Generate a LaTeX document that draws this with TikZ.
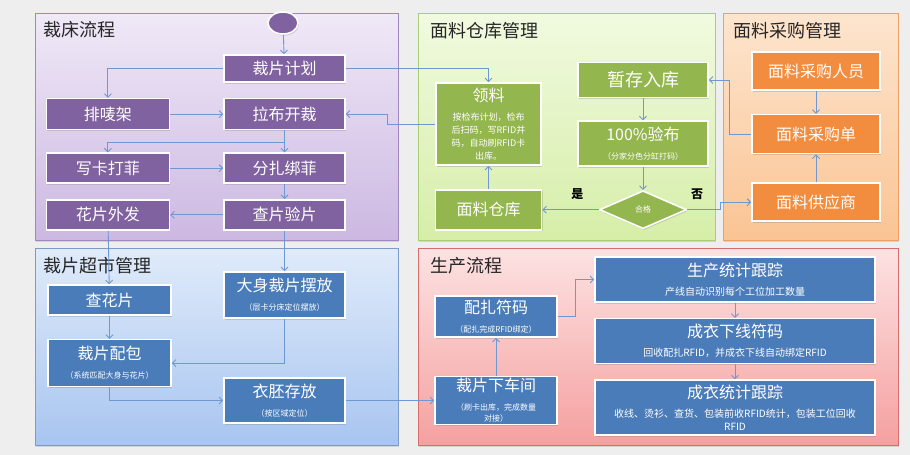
\documentclass[tikz,border=0pt]{standalone}
\usepackage{fontspec}
\setmainfont{Noto Sans CJK SC}
\usetikzlibrary{shapes.geometric,arrows.meta,positioning,shadows}
\definecolor{pagebg}{RGB}{238,238,238}
\definecolor{cutfill}{RGB}{128,98,160}
\definecolor{cuttop}{RGB}{240,233,247}
\definecolor{cutbot}{RGB}{204,184,226}
\definecolor{cutline}{RGB}{160,135,190}
\definecolor{wfill}{RGB}{148,182,78}
\definecolor{wtop}{RGB}{241,250,224}
\definecolor{wbot}{RGB}{214,238,168}
\definecolor{wline}{RGB}{170,205,120}
\definecolor{buyfill}{RGB}{242,140,62}
\definecolor{buytop}{RGB}{253,229,206}
\definecolor{buybot}{RGB}{250,196,148}
\definecolor{buyline}{RGB}{238,160,100}
\definecolor{mfill}{RGB}{74,124,186}
\definecolor{mtop}{RGB}{224,235,250}
\definecolor{mbot}{RGB}{168,197,240}
\definecolor{mline}{RGB}{125,155,200}
\definecolor{ptop}{RGB}{253,226,226}
\definecolor{pbot}{RGB}{245,160,160}
\definecolor{pline}{RGB}{215,110,110}
\definecolor{flow}{RGB}{110,152,210}

\begin{document}
\begin{tikzpicture}[x=1pt, y=-1pt,
    box/.style={rectangle, draw=white, line width=1.6pt, text=white, align=center,
                minimum width=121pt, inner sep=2pt, font=\fontsize{16}{19}\selectfont,
                drop shadow={shadow xshift=1pt, shadow yshift=-1.5pt, opacity=.3}},
    cutbox/.style={box, fill=cutfill},
    wbox/.style={box, fill=wfill},
    buybox/.style={box, fill=buyfill, minimum width=128pt},
    bluebox/.style={box, fill=mfill},
    startdot/.style={ellipse, fill=cutfill, draw=white, line width=1.6pt,
                minimum width=30pt, minimum height=22pt,
                drop shadow={shadow xshift=1pt, shadow yshift=-1.5pt, opacity=.3}},
    gate/.style={diamond, aspect=2.4, fill=wfill, draw=white, line width=1.6pt, text=white,
                minimum width=87pt, minimum height=38pt, inner sep=1pt, font=\footnotesize,
                drop shadow={shadow xshift=1pt, shadow yshift=-1.5pt, opacity=.3}},
    panel/.style={line width=.8pt, drop shadow={shadow xshift=1pt, shadow yshift=-1.5pt, opacity=.25}},
    title/.style={anchor=west, font=\fontsize{18}{21}\selectfont, text=black!85},
    arr/.style={-{Straight Barb[length=3.5pt, width=7pt]}, line width=.9pt, flow},
    lbl/.style={font=\bfseries\fontsize{12}{14}\selectfont, text=black}
]
\path[use as bounding box, fill=pagebg] (0,0) rectangle (910,455);

% panels
\path[panel, draw=cutline, top color=cuttop, bottom color=cutbot] (35,13) rectangle (398,240);
\path[panel, draw=wline, top color=wtop, bottom color=wbot] (418,13) rectangle (715,240);
\path[panel, draw=buyline, top color=buytop, bottom color=buybot] (723,13) rectangle (898,240);
\path[panel, draw=mline, top color=mtop, bottom color=mbot] (35,248) rectangle (398,445);
\path[panel, draw=pline, top color=ptop, bottom color=pbot] (418,248) rectangle (898,445);

\node[title] (cuttitle) at (40,30) {裁床流程};
\node[title] (wtitle) at (427,31) {面料仓库管理};
\node[title] (buytitle) at (730,31) {面料采购管理};
\node[title] (martitle) at (40,266) {裁片超市管理};
\node[title] (prodtitle) at (427,266) {生产流程};

% cutting room
\node[startdot] (start) at (283,23) {};
\node[cutbox, minimum height=27pt] (plan) at (284.5,68.5) {裁片计划};
\node[cutbox, minimum height=31pt, below=15pt of plan] (spread) {拉布开裁};
\node[cutbox, minimum height=30pt, below=22pt of spread] (bundle) {分扎绑菲};
\node[cutbox, minimum height=30pt, below=15pt of bundle] (check) {查片验片};
\node[cutbox, minimum height=31pt, minimum width=123pt, left=53pt of spread] (marker) {排唛架};
\node[cutbox, minimum height=30pt, minimum width=123pt, left=53pt of bundle] (tag) {写卡打菲};
\node[cutbox, minimum height=30pt, minimum width=123pt, left=53pt of check] (print) {花片外发};

% fabric warehouse
\node[wbox, minimum width=105pt, minimum height=82pt] (pick) at (488.5,124)
    {领料\\\small 按检布计划，检布\\[-6pt]\small 后扫码，写RFID并\\[-6pt]\small 码，自动刷RFID卡\\[-6pt]\small 出库。};
\node[wbox, minimum width=130pt, minimum height=35pt, font=\fontsize{18}{21}\selectfont] (temp) at (643,80) {暂存入库};
\node[wbox, minimum width=130pt, minimum height=45pt, below=22pt of temp] (inspect)
    {100\%验布\\\footnotesize （分家分色分缸打码）};
\node[gate, below=23pt of inspect] (ok) {合格};
\node[wbox, minimum width=106pt, minimum height=40pt] (stock) at (pick |- ok) {面料仓库};

% purchasing
\node[buybox, minimum height=38pt] (buyer) at (816,71) {面料采购人员};
\node[buybox, minimum height=39pt, below=23pt of buyer] (order) {面料采购单};
\node[buybox, minimum height=38pt, below=28pt of order] (supplier) {面料供应商};

% cut-piece market
\node[bluebox, minimum width=123pt, minimum height=30pt] (chk) at (109.5,300) {查花片};
\node[bluebox, minimum width=123pt, minimum height=47pt, below=23pt of chk] (pack)
    {裁片配包\\\footnotesize （系统匹配大身与花片）};
\node[bluebox, minimum height=46pt] (body) at (284.5,295) {大身裁片摆放\\\footnotesize （层卡分床定位摆放）};
\node[bluebox, minimum height=45pt] (store) at (284.5,400.5) {衣胚存放\\\footnotesize （按区域定位）};

% production
\node[bluebox, minimum width=122pt, minimum height=41pt] (pair) at (496,316.5)
    {配扎符码\\\footnotesize （配扎完成RFID绑定）};
\node[bluebox, minimum width=122pt, minimum height=45pt] (down) at (pair |- store)
    {裁片下车间\\\footnotesize （刷卡出库，完成数量\\[-8pt]\footnotesize 对接）};
\node[bluebox, minimum width=280pt, minimum height=45pt] (stat) at (735,279.5)
    {生产统计跟踪\\\normalsize 产线自动识别每个工位加工数量};
\node[bluebox, minimum width=280pt, minimum height=45pt, below=15pt of stat] (offline)
    {成衣下线符码\\\normalsize 回收配扎RFID，并成衣下线自动绑定RFID};
\node[bluebox, minimum width=280pt, minimum height=55pt, below=15pt of offline] (final)
    {成衣统计跟踪\\\normalsize 收线、烫衫、查货、包装前收RFID统计，包装工位回收\\[-6pt]\normalsize RFID};

% connectors
\draw[arr] (start) -- (plan);
\draw[arr] (plan.west) -| (marker.north);
\draw[arr] (marker) -- (spread);
\draw[arr] (spread) -- (bundle);
\draw[arr] (spread.south) -- ++(0,12) -| (tag.north);
\draw[arr] (tag) -- (bundle);
\draw[arr] (bundle) -- (check);
\draw[arr] (check) -- (print);
\draw[arr] (print) -- (chk);
\draw[arr] (check) -- (body);
\draw[arr] (plan.east) -| (pick.north);
\draw[arr] (pick.west) -- ++(-48,0) |- (spread.east);
\draw[arr] (temp) -- (inspect);
\draw[arr] (inspect) -- (ok);
\draw[arr] (ok.west) -- (stock.east) node[lbl, pos=.38, above=6pt] (yes) {是};
\draw[arr] (stock) -- (pick);
\draw[arr] (ok.east) -- ++(33,0) node[lbl, pos=.3, above=6pt] (no) {否} |- (supplier.west);
\draw[arr] (order.west) -- ++(-22,0) |- (temp.east);
\draw[arr] (buyer) -- (order);
\draw[arr] (supplier) -- (order);
\draw[arr] (chk) -- (pack);
\draw[arr] (body.south) |- (pack.east);
\draw[arr] (pack.south) |- (store.west);
\draw[arr] (store) -- (down);
\draw[arr] (down) -- (pair);
\draw[arr] (pair.east) -- ++(18,0) |- (stat.west);
\draw[arr] (stat) -- (offline);
\draw[arr] (offline) -- (final);
\end{tikzpicture}
\end{document}
